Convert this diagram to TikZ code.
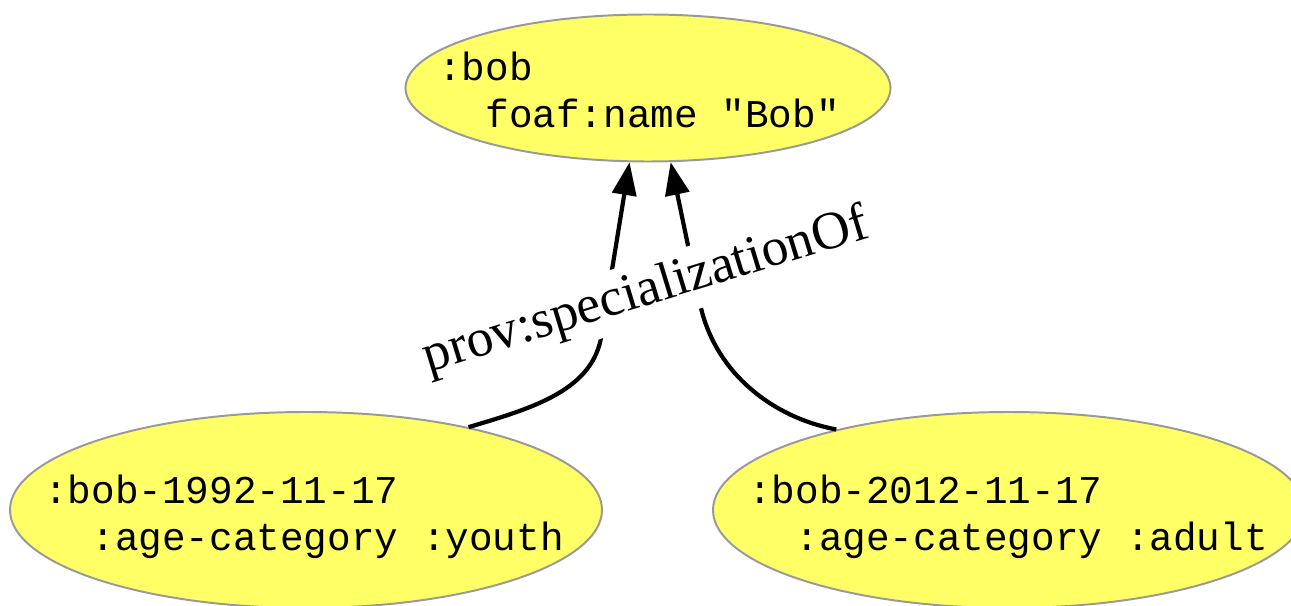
\documentclass[tikz,border=0pt]{standalone}
\usepackage{fontspec}
\setmainfont{Liberation Serif}
\setmonofont{Liberation Mono}
\usetikzlibrary{shapes.geometric,arrows.meta}
\definecolor{nodeyellow}{HTML}{FFFF66}
\definecolor{nodegray}{HTML}{999999}
\tikzset{
  entity/.style = {ellipse, draw = nodegray, line width = 1.4pt, fill = nodeyellow, inner sep = 0pt},
  entitytext/.style = {font = {\ttfamily\fontsize{28}{33.4}\selectfont}, align = left, inner sep = 0pt},
  specof/.style = {line width = 3pt, -{Triangle[length = 0.82cm, width = 0.6cm]}},
}

\begin{document}
\begin{tikzpicture}
  \useasboundingbox (0, 0) rectangle (32.275, 15.125);

  \node[entity, minimum width = 12.125cm, minimum height = 3.675cm] (bob) at (16.2, 12.925) {};
  \node[entity, minimum width = 14.8cm, minimum height = 4.9cm] (youth) at (7.65, 2.375) {};
  \node[entity, minimum width = 14.8cm, minimum height = 4.9cm] (adult) at (25.225, 2.375) {};

  \node[entitytext] (bobtext) at (15.975, 12.875) {:bob\\\hphantom{xx}foaf:name "Bob"};
  \node[entitytext] (youthtext) at (7.6, 2.2) {:bob-1992-11-17\\\hphantom{xx}:age-category :youth};
  \node[entitytext] (adulttext) at (25.2, 2.2) {:bob-2012-11-17\\\hphantom{xx}:age-category :adult};

  \draw[specof] (youth.27) .. controls +(1.5, 0.45) and +(-0.28, -1.3) .. +(3.3, 2.175) -- (bob.-104);
  \draw[specof] (adult.155) .. controls +(-1.6, 0.3) and +(0.4, -1.6) .. +(-3.375, 3.0) -- (bob.-73);

  \node[font = {\fontsize{38}{45}\selectfont}, fill = white, rotate = 17, inner sep = 5pt] (speclabel) at (16.15, 7.825) {prov:specializationOf};
\end{tikzpicture}
\end{document}
